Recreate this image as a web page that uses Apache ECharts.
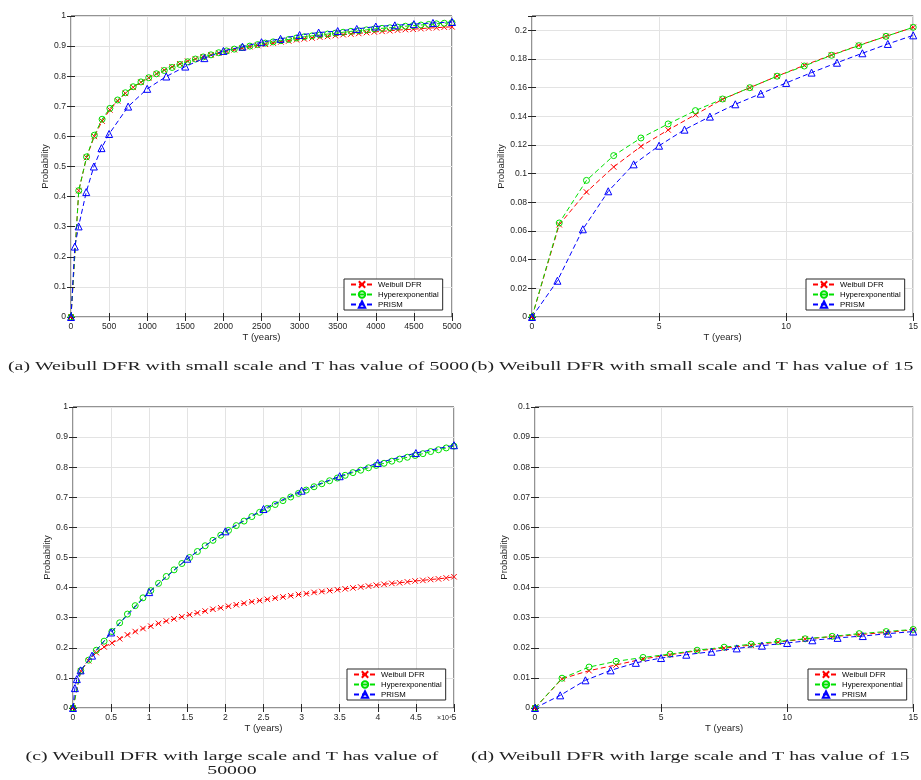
<!DOCTYPE html>
<html><head><meta charset="utf-8">
<script src="https://cdn.jsdelivr.net/npm/echarts@6/dist/echarts.min.js"></script>
<style>html,body{margin:0;padding:0;background:#fff}#c{width:921px;height:780px}</style>
</head><body><div id="c"></div>
<script>
// ---------- Data ----------
const seriesNames = ['Weibull DFR', 'Hyperexponential', 'PRISM'];

// (a) small scale, T up to 5000
const tA = [0,102,204,306,408,510,612,714,816,918,1020,1122,1224,1327,1429,1531,1633,1735,1837,1939,2041,2143,2245,2347,2449,2551,2653,2755,2857,2959,3061,3163,3265,3367,3469,3571,3673,3776,3878,3980,4082,4184,4286,4388,4490,4592,4694,4796,4898,5000];
const weibullA = [0,0.42,0.53,0.60,0.651,0.688,0.718,0.743,0.763,0.78,0.795,0.808,0.82,0.831,0.841,0.85,0.857,0.864,0.871,0.877,0.883,0.888,0.893,0.898,0.902,0.906,0.91,0.914,0.917,0.921,0.924,0.927,0.93,0.932,0.935,0.938,0.94,0.942,0.945,0.947,0.949,0.951,0.953,0.955,0.956,0.958,0.96,0.961,0.963,0.964];
const hyperA = [0,0.42,0.532,0.604,0.657,0.693,0.721,0.745,0.765,0.781,0.795,0.808,0.819,0.829,0.839,0.848,0.857,0.864,0.871,0.878,0.884,0.89,0.895,0.90,0.905,0.91,0.914,0.918,0.922,0.927,0.931,0.934,0.937,0.94,0.943,0.946,0.949,0.951,0.954,0.957,0.959,0.961,0.963,0.966,0.968,0.97,0.972,0.974,0.976,0.978];
const tPrismA = [0,50,100,200,300,400,500,750,1000,1250,1500,1750,2000,2250,2500,2750,3000,3250,3500,3750,4000,4250,4500,4750,5000];
const prismA = [0,0.234,0.301,0.415,0.500,0.561,0.608,0.699,0.758,0.799,0.832,0.860,0.884,0.898,0.913,0.924,0.937,0.945,0.950,0.957,0.965,0.969,0.973,0.977,0.980];

// (b) small scale, T up to 15
const tB = [0,1.071,2.143,3.214,4.286,5.357,6.429,7.5,8.571,9.643,10.714,11.786,12.857,13.929,15];
const weibullB = [0,0.0644,0.0872,0.1047,0.119,0.1305,0.1412,0.1519,0.160,0.168,0.1756,0.1828,0.1895,0.1958,0.2021];
const hyperB = [0,0.0656,0.0953,0.1126,0.1249,0.1347,0.144,0.1521,0.160,0.168,0.1751,0.1826,0.1893,0.1958,0.2021];
const tPrismB = [0,1,2,3,4,5,6,7,8,9,10,11,12,13,14,15];
const prismB = [0,0.0253,0.0612,0.0877,0.1065,0.1195,0.1307,0.1398,0.1484,0.1558,0.1633,0.1705,0.1774,0.184,0.1905,0.1965];

// (c) large scale, T up to 50000
const tC = [0,1020,2041,3061,4082,5102,6122,7143,8163,9184,10204,11224,12245,13265,14286,15306,16327,17347,18367,19388,20408,21429,22449,23469,24490,25510,26531,27551,28571,29592,30612,31633,32653,33673,34694,35714,36735,37755,38776,39796,40816,41837,42857,43878,44898,45918,46939,47959,48980,50000];
const weibullC = [0,0.123,0.157,0.184,0.203,0.216,0.230,0.243,0.254,0.264,0.272,0.281,0.289,0.296,0.303,0.310,0.316,0.322,0.328,0.333,0.338,0.343,0.348,0.353,0.357,0.361,0.365,0.369,0.373,0.377,0.380,0.384,0.387,0.390,0.393,0.396,0.399,0.402,0.405,0.408,0.411,0.414,0.416,0.419,0.422,0.424,0.427,0.429,0.432,0.436];
const hyperC = [0,0.124,0.159,0.192,0.222,0.254,0.283,0.312,0.340,0.366,0.390,0.414,0.437,0.459,0.480,0.500,0.520,0.539,0.557,0.574,0.590,0.606,0.621,0.636,0.650,0.663,0.676,0.689,0.701,0.713,0.724,0.735,0.745,0.755,0.764,0.773,0.782,0.790,0.798,0.806,0.813,0.820,0.827,0.833,0.839,0.845,0.852,0.858,0.864,0.870];
const tPrismC = [0,250,500,1000,2500,5000,10000,15000,20000,25000,30000,35000,40000,45000,50000];
const prismC = [0,0.066,0.096,0.125,0.174,0.251,0.385,0.496,0.587,0.661,0.722,0.770,0.814,0.847,0.873];

// (d) large scale, T up to 15
const tD = [0,1.071,2.143,3.214,4.286,5.357,6.429,7.5,8.571,9.643,10.714,11.786,12.857,13.929,15];
const weibullD = [0,0.0097,0.0124,0.0143,0.0163,0.0177,0.019,0.0199,0.0209,0.0219,0.0229,0.0237,0.0244,0.0251,0.026];
const hyperD = [0,0.0099,0.0136,0.0155,0.0168,0.0179,0.0192,0.0202,0.0212,0.0221,0.023,0.0238,0.0247,0.0254,0.0261];
const tPrismD = [0,1,2,3,4,5,6,7,8,9,10,11,12,13,14,15];
const prismD = [0,0.0042,0.0092,0.0125,0.015,0.0166,0.0177,0.0187,0.0198,0.0207,0.0216,0.0225,0.0233,0.0239,0.0247,0.0254];

// Axis ranges / ticks
const xRangeA = [0, 5000, 500], yRangeA = [0, 1, 0.1];
const xRangeB = [0, 15, 5],     yRangeB = [0, 0.21, 0.02];
const xRangeC = [0, 50000, 5000], yRangeC = [0, 1, 0.1];
const xRangeD = [0, 15, 5],     yRangeD = [0, 0.1, 0.01];

const captions = {
  a: '(a) Weibull DFR with small scale and T has value of 5000',
  b: '(b) Weibull DFR with small scale and T has value of 15',
  c1: '(c) Weibull DFR with large scale and T has value of',
  c2: '50000',
  d: '(d) Weibull DFR with large scale and T has value of 15'
};
const xName = 'T (years)', yName = 'Probability', xExpC = '\u00d710\u2074';

// ---------- Chart ----------
const FONT = 'Liberation Sans', TXT = '#262626', GRIDC = '#e3e3e3';
const zip = (xs, ys) => xs.map((x, i) => [x, ys[i]]);

const panels = [
  {grid:{left:71,top:16,width:381,height:301}, xr:xRangeA, yr:yRangeA, leg:{left:344,top:279}, yGap:18,
   data:[zip(tA,weibullA), zip(tA,hyperA), zip(tPrismA,prismA)]},
  {grid:{left:532,top:16,width:382,height:301}, xr:xRangeB, yr:yRangeB, leg:{left:806,top:279}, yGap:23.5,
   data:[zip(tB,weibullB), zip(tB,hyperB), zip(tPrismB,prismB)],
   yfmt: v => (Math.abs(v*50 - Math.round(v*50)) < 1e-6) ? String(+v.toFixed(2)) : ''},
  {grid:{left:73,top:407,width:381,height:301}, xr:xRangeC, yr:yRangeC, leg:{left:347,top:669}, yGap:18.5,
   data:[zip(tC,weibullC), zip(tC,hyperC), zip(tPrismC,prismC)],
   xfmt: v => String(+(v/10000).toFixed(2))},
  {grid:{left:535,top:407,width:381,height:301}, xr:xRangeD, yr:yRangeD, leg:{left:808,top:669}, yGap:24,
   data:[zip(tD,weibullD), zip(tD,hyperD), zip(tPrismD,prismD)]}
];

const styles = [
  {color:'#ff0000', symbol:'path://M0,0L10,10M10,0L0,10', size:5.5},
  {color:'#00e000', symbol:'circle', size:6},
  {color:'#0000ff', symbol:'triangle', size:7}
];

const grid = [], xAxis = [], yAxis = [], series = [], legend = [];
panels.forEach((p, i) => {
  grid.push(Object.assign({show:true, borderColor:TXT, borderWidth:1, backgroundColor:'#fff', containLabel:false}, p.grid));
  const tick = {show:true, inside:true, length:4, lineStyle:{color:TXT, width:1}};
  xAxis.push({type:'value', gridIndex:i, position:'bottom', min:p.xr[0], max:p.xr[1], interval:p.xr[2],
    axisLine:{show:false}, axisTick:tick,
    axisLabel:{fontFamily:FONT, fontSize:8.6, color:TXT, margin:5, formatter:p.xfmt || (v => String(+v.toFixed(3)))},
    splitLine:{show:true, lineStyle:{color:GRIDC, width:1}},
    name:xName, nameLocation:'middle', nameGap:14, nameTextStyle:{fontFamily:FONT, fontSize:9.5, color:TXT}});
  xAxis.push({type:'value', gridIndex:i, position:'top', min:p.xr[0], max:p.xr[1], interval:p.xr[2],
    axisLine:{show:false}, axisTick:tick, axisLabel:{show:false}, splitLine:{show:false}});
  yAxis.push({type:'value', gridIndex:i, position:'left', min:p.yr[0], max:p.yr[1], interval:p.yr[2],
    axisLine:{show:false}, axisTick:tick,
    axisLabel:{fontFamily:FONT, fontSize:8.6, color:TXT, margin:5, formatter:p.yfmt || (v => String(+v.toFixed(3)))},
    splitLine:{show:true, lineStyle:{color:GRIDC, width:1}},
    name:yName, nameLocation:'middle', nameGap:p.yGap, nameRotate:90, nameTextStyle:{fontFamily:FONT, fontSize:9.5, color:TXT}});
  yAxis.push({type:'value', gridIndex:i, position:'right', min:p.yr[0], max:p.yr[1], interval:p.yr[2],
    axisLine:{show:false}, axisTick:tick, axisLabel:{show:false}, splitLine:{show:false}});
  p.data.forEach((d, k) => {
    const s = styles[k];
    series.push({name:seriesNames[k], type:'line', xAxisIndex:2*i, yAxisIndex:2*i, data:d,
      symbol:s.symbol, symbolSize:s.size, symbolKeepAspect:true, showSymbol:true, clip:false,
      lineStyle:{color:s.color, width:1, type:[5,3]},
      itemStyle:{color:'rgba(0,0,0,0)', borderColor:s.color, borderWidth:1},
      emphasis:{disabled:true}, silent:true, z:2+k});
  });
  legend.push({orient:'vertical', left:p.leg.left, top:p.leg.top, data:seriesNames, selectedMode:false,
    backgroundColor:'#fff', borderColor:TXT, borderWidth:1, borderRadius:0, padding:[1,4,1,6],
    itemWidth:22, itemHeight:8, itemGap:1,
    textStyle:{fontFamily:FONT, fontSize:7.8, color:'#000', lineHeight:9}});
});

// Captions (serif), horizontally scaled to the measured reference width
const capSize = 11.5, capFam = 'Liberation Serif';
const cv = document.createElement('canvas').getContext('2d');
cv.font = capSize + 'px "' + capFam + '"';
const capScale = 461 / cv.measureText(captions.a).width;
const capStyle = t => ({text:t, fontSize:capSize, fontFamily:capFam, fill:'#222', verticalAlign:'middle'});
const graphic = [
  {type:'text', x:8, y:367, scaleX:capScale, style:Object.assign(capStyle(captions.a), {align:'left'})},
  {type:'text', x:471, y:367, scaleX:capScale, style:Object.assign(capStyle(captions.b), {align:'left'})},
  {type:'text', x:232, y:757, scaleX:capScale, style:Object.assign(capStyle(captions.c1), {align:'center'})},
  {type:'text', x:232, y:771, scaleX:capScale, style:Object.assign(capStyle(captions.c2), {align:'center'})},
  {type:'text', x:471, y:757, scaleX:capScale, style:Object.assign(capStyle(captions.d), {align:'left'})},
  {type:'text', x:452, y:718, style:{text:xExpC, fontSize:7, fontFamily:FONT, fill:TXT, align:'right', verticalAlign:'middle'}}
];

const chart = echarts.init(document.getElementById('c'), null, {renderer:'canvas'});
chart.setOption({animation:false, backgroundColor:'#fff', grid, xAxis, yAxis, series, legend, graphic, tooltip:{show:false}});
</script></body></html>
